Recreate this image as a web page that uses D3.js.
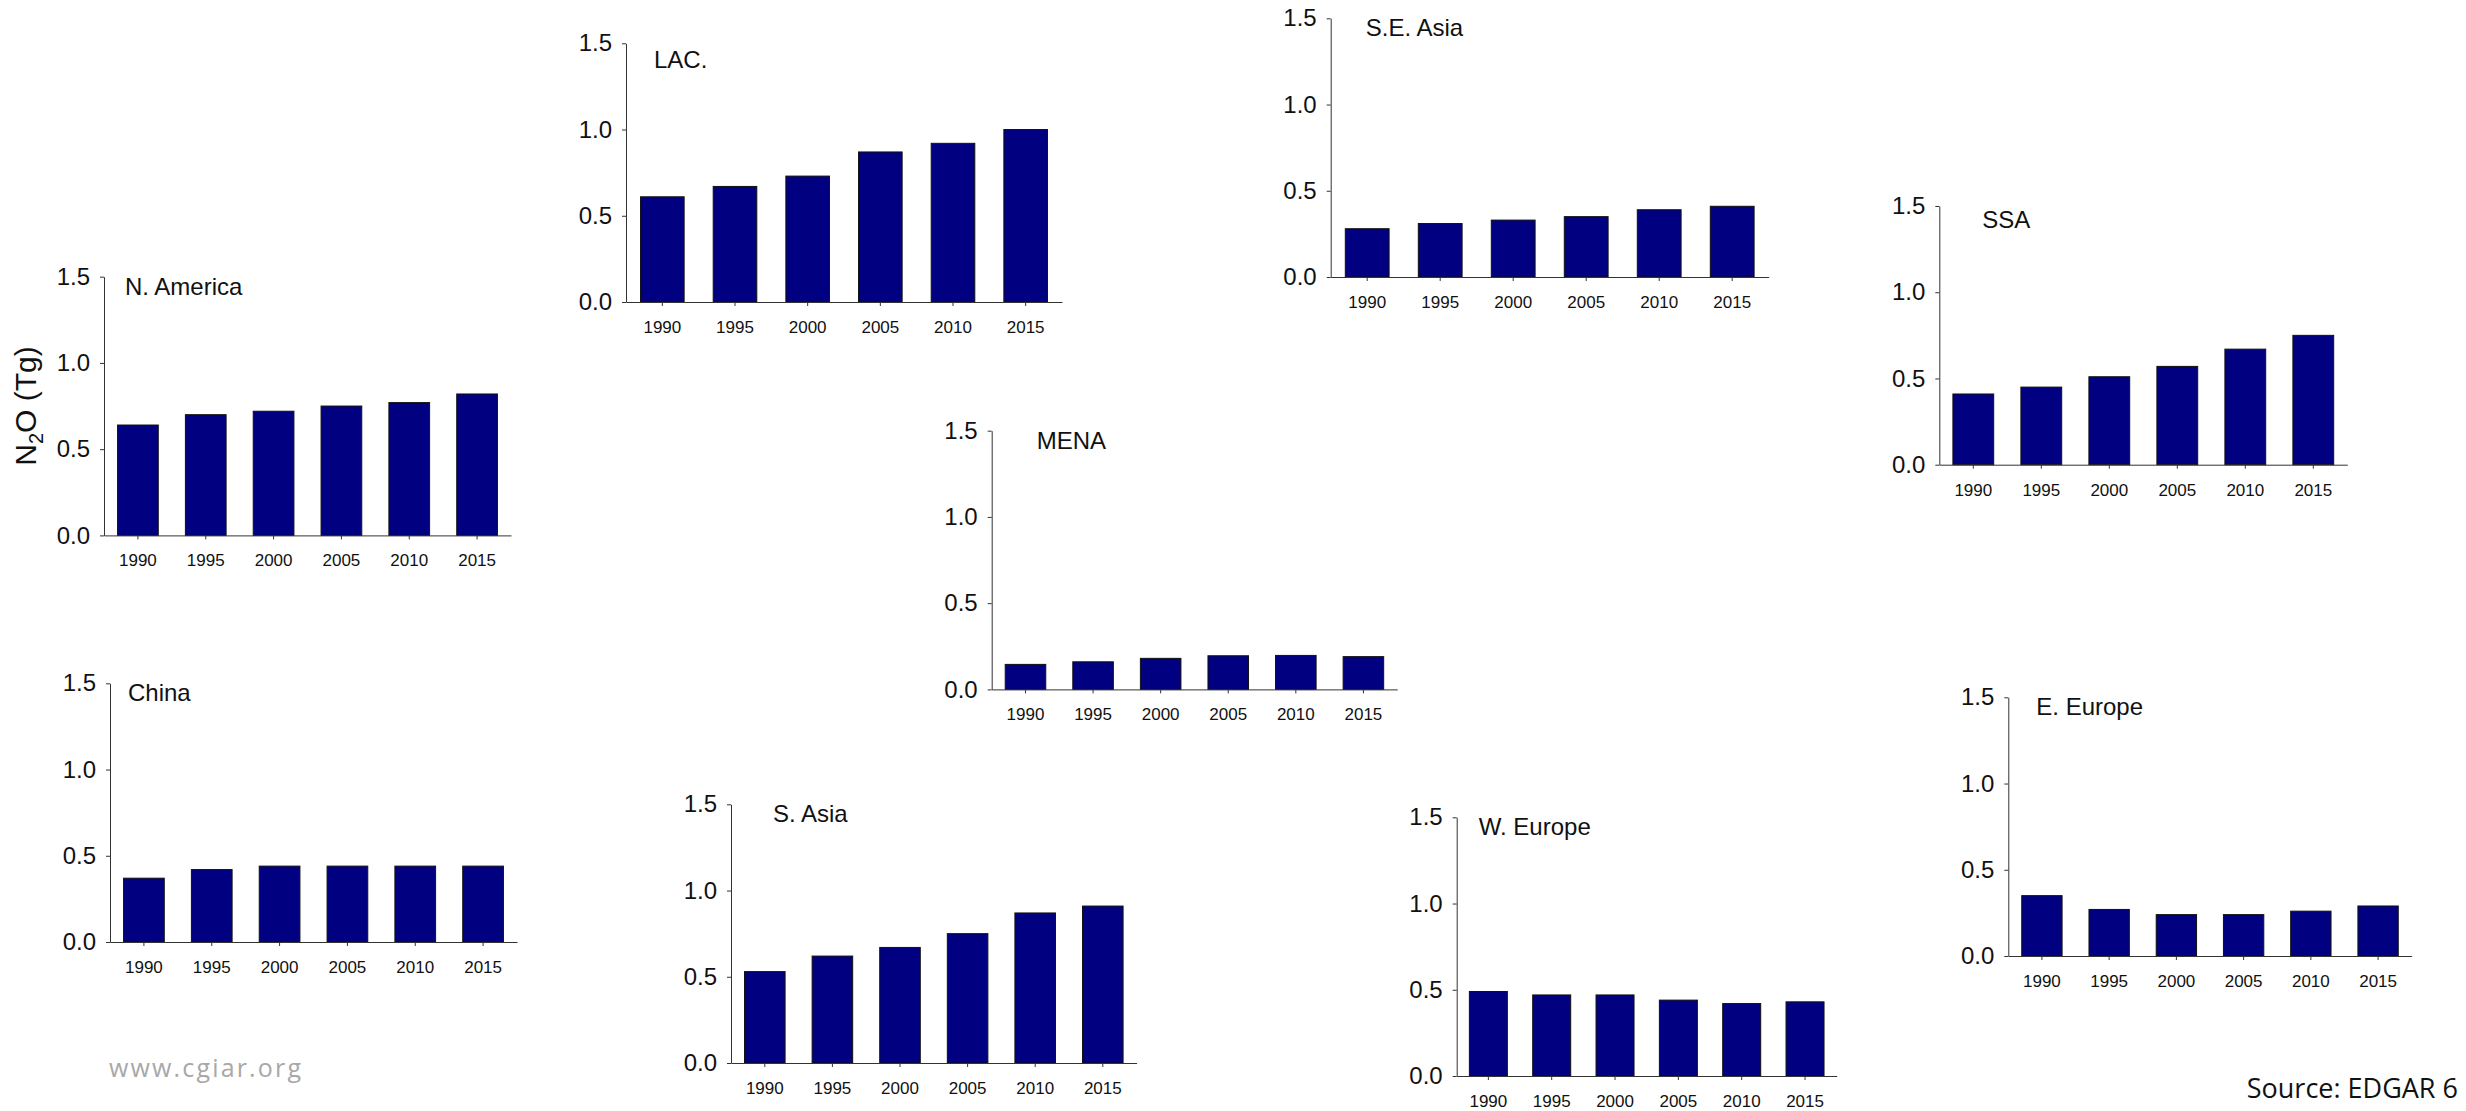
<!DOCTYPE html>
<html>
<head>
<meta charset="utf-8">
<script src="https://cdn.jsdelivr.net/npm/d3@7"></script>
<style>
  body { margin: 0; background: #fff; }
  text { font-family: "Liberation Sans", Arial, sans-serif; }
  .axis path, .axis line { stroke: #333; }
  .bar { fill: #000080; stroke: #111; stroke-width: 1; }
</style>
</head>
<body>
<div id="wrapper"></div>
<script>
  // 1. Data (N2O emissions, Tg)

  const years = ["1990", "1995", "2000", "2005", "2010", "2015"]
  const yTicks = [0, 0.5, 1.0, 1.5]
  const regions = ["N. America", "LAC.", "S.E. Asia", "SSA", "MENA", "China", "S. Asia", "W. Europe", "E. Europe"]

  const nAmerica = [0.64, 0.70, 0.72, 0.75, 0.77, 0.82]
  const lac = [0.61, 0.67, 0.73, 0.87, 0.92, 1.00]
  const seAsia = [0.28, 0.31, 0.33, 0.35, 0.39, 0.41]
  const ssa = [0.41, 0.45, 0.51, 0.57, 0.67, 0.75]
  const mena = [0.145, 0.16, 0.18, 0.195, 0.197, 0.19]
  const china = [0.37, 0.42, 0.44, 0.44, 0.44, 0.44]
  const sAsia = [0.53, 0.62, 0.67, 0.75, 0.87, 0.91]
  const wEurope = [0.49, 0.47, 0.47, 0.44, 0.42, 0.43]
  const eEurope = [0.35, 0.27, 0.24, 0.24, 0.26, 0.29]

  const series = [nAmerica, lac, seAsia, ssa, mena, china, sAsia, wEurope, eEurope]

  // 2. Dimensions: where each small panel sits (axis corner, width, title offset)

  const dimensions = { width: 2466, height: 1111, plotHeight: 258.7 }

  const layout = [
    { left: 104, top: 276.7, width: 407, tx: 21, ty: 18 },
    { left: 626, top: 43.3, width: 436, tx: 28, ty: 25 },
    { left: 1330.7, top: 18.3, width: 438, tx: 35, ty: 18 },
    { left: 1939.3, top: 206, width: 408, tx: 43, ty: 22 },
    { left: 991.7, top: 430.7, width: 405.5, tx: 45, ty: 18 },
    { left: 110, top: 683.3, width: 407, tx: 18, ty: 18 },
    { left: 731, top: 804.3, width: 405.6, tx: 42, ty: 18 },
    { left: 1456.7, top: 817.3, width: 380, tx: 22, ty: 18 },
    { left: 2008.3, top: 697.3, width: 403.4, tx: 28, ty: 18 },
  ]

  // 3. Draw canvas

  const wrapper = d3.select("#wrapper")
    .append("svg")
      .attr("width", dimensions.width)
      .attr("height", dimensions.height)

  // 4. Draw each panel

  regions.forEach((region, i) => {
    const pos = layout[i]
    const values = series[i]

    const bounds = wrapper.append("g")
        .attr("transform", `translate(${pos.left}, ${pos.top})`)

    const xScale = d3.scaleBand()
        .domain(years)
        .range([0, pos.width])
        .paddingInner(0.4)
        .paddingOuter(0.2)

    const yScale = d3.scaleLinear()
        .domain([0, 1.5])
        .range([dimensions.plotHeight, 0])

    bounds.selectAll(".bar")
      .data(values)
      .enter().append("rect")
        .attr("class", "bar")
        .attr("x", (d, j) => xScale(years[j]))
        .attr("width", xScale.bandwidth())
        .attr("y", d => yScale(d))
        .attr("height", d => dimensions.plotHeight - yScale(d))

    const yAxis = bounds.append("g")
        .attr("class", "axis")
        .call(d3.axisLeft(yScale)
          .tickValues(yTicks)
          .tickFormat(d3.format(".1f"))
          .tickSize(4)
          .tickPadding(10)
          .tickSizeOuter(0))
    yAxis.selectAll("text")
        .attr("font-size", 24)
        .attr("fill", "#111")
        .style("font-family", "'Liberation Sans', Arial, sans-serif")

    const xAxis = bounds.append("g")
        .attr("class", "axis")
        .attr("transform", `translate(0, ${dimensions.plotHeight})`)
        .call(d3.axisBottom(xScale)
          .tickSize(4)
          .tickPadding(15)
          .tickSizeOuter(0))
    xAxis.selectAll("text")
        .attr("font-size", 17)
        .attr("fill", "#111")
        .style("font-family", "'Liberation Sans', Arial, sans-serif")

    bounds.append("text")
        .attr("x", pos.tx)
        .attr("y", pos.ty)
        .attr("font-size", 24)
        .attr("fill", "#111")
        .text(region)
  })

  // 5. Peripherals

  const yLabel = wrapper.append("text")
      .attr("transform", "translate(36, 406) rotate(-90)")
      .attr("text-anchor", "middle")
      .attr("font-size", 30)
      .attr("fill", "#111")
  yLabel.append("tspan").text("N")
  yLabel.append("tspan").attr("font-size", 20).attr("dy", 7).text("2")
  yLabel.append("tspan").attr("dy", -7).text("O (Tg)")

  wrapper.append("text")
      .attr("x", 109)
      .attr("y", 1077)
      .attr("font-size", 25)
      .attr("fill", "#a8a8a8")
      .style("font-family", "'Open Sans', sans-serif")
      .attr("textLength", 192)
      .text("www.cgiar.org")

  wrapper.append("text")
      .attr("x", 2458)
      .attr("y", 1098)
      .attr("text-anchor", "end")
      .attr("font-size", 27)
      .attr("fill", "#111")
      .style("font-family", "'Open Sans', sans-serif")
      .text("Source: EDGAR 6")
</script>
</body>
</html>
